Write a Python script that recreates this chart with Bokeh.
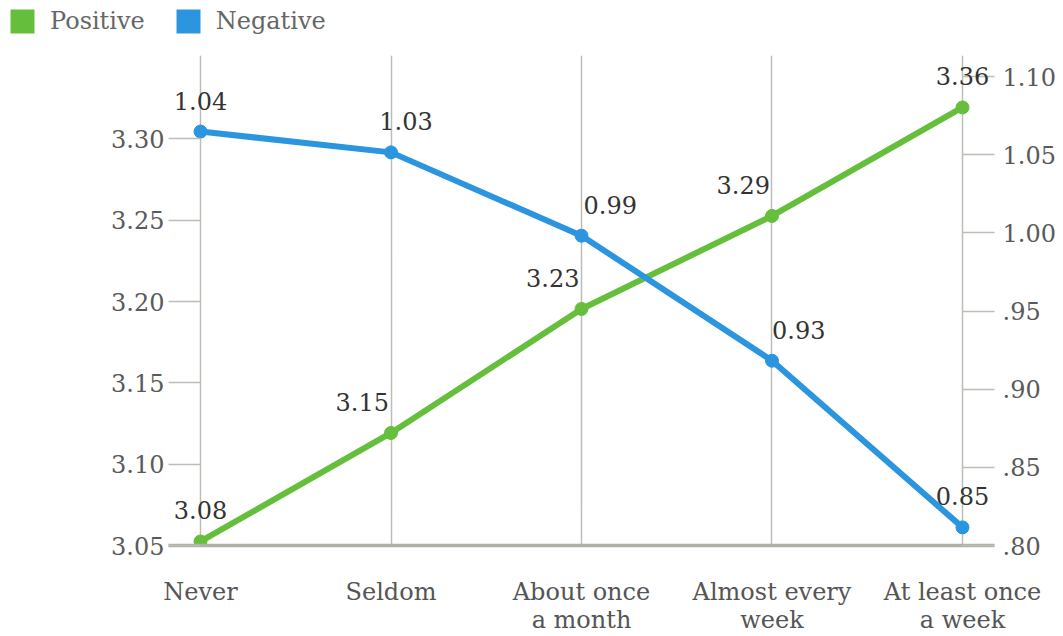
from bokeh.plotting import figure
from bokeh.models import (Range1d, LinearAxis, FixedTicker, Legend, LegendItem,
                          ColumnDataSource, LabelSet)
from bokeh.core.properties import value
from bokeh.embed import file_html
from bokeh.resources import INLINE

# ---- data ----
categories = ["Never", "Seldom", "About once\na month", "Almost every\nweek", "At least once\na week"]
positive = [3.08, 3.15, 3.23, 3.29, 3.36]
negative = [1.04, 1.03, 0.99, 0.93, 0.85]
left_tick_labels = ["3.05", "3.10", "3.15", "3.20", "3.25", "3.30"]
right_tick_labels = [".80", ".85", ".90", ".95", "1.00", "1.05", "1.10"]
series_names = ["Positive", "Negative"]

# ---- styling ----
GREEN = "#66bf3c"
BLUE = "#2b96df"
GRID = "#bdbdb5"
AXIS = "#b0b0a8"
FONT = "DejaVu Serif"
FS = "24px"

LEFT_START, LEFT_END, LEFT_STEP = 3.0774, 3.3935, 0.05245
RIGHT_START, RIGHT_END, RIGHT_STEP = 0.8413, 1.0765, 0.03752

xs = list(range(len(categories)))

p = figure(frame_width=826, frame_height=490,
           x_range=Range1d(-0.168, 4.168),
           y_range=Range1d(LEFT_START, LEFT_END),
           output_backend="svg", toolbar_location=None,
           min_border_left=168, min_border_right=62,
           min_border_top=8, min_border_bottom=80)
p.outline_line_color = None
p.background_fill_color = "white"
p.extra_y_ranges = {"right": Range1d(RIGHT_START, RIGHT_END)}

# grid
p.ygrid.visible = False
p.xgrid.ticker = FixedTicker(ticks=xs)
p.xgrid.grid_line_color = GRID
p.xgrid.grid_line_width = 1.5

# bottom axis
xa = p.xaxis[0]
xa.ticker = FixedTicker(ticks=xs)
xa.major_label_overrides = {i: c for i, c in enumerate(categories)}
xa.axis_line_color = AXIS
xa.axis_line_width = 3.5
xa.major_tick_line_color = None
xa.minor_tick_line_color = None
xa.major_label_standoff = 26
xa.major_label_text_font = FONT
xa.major_label_text_font_size = FS
xa.major_label_text_color = "#555555"
xa.major_label_text_line_height = 1.0

# left axis
left_ticks = [LEFT_START + i * LEFT_STEP for i in range(len(left_tick_labels))]
ya = p.yaxis[0]
ya.ticker = FixedTicker(ticks=left_ticks)
ya.major_label_overrides = {t: l for t, l in zip(left_ticks, left_tick_labels)}
ya.axis_line_color = None
ya.major_tick_in = 32
ya.major_tick_out = 0
ya.major_tick_line_color = GRID
ya.major_tick_line_width = 1.5
ya.minor_tick_line_color = None
ya.major_label_standoff = 4
ya.major_label_text_font = FONT
ya.major_label_text_font_size = FS
ya.major_label_text_color = "#5a5a5a"

# right axis
right_ticks = [RIGHT_START + i * RIGHT_STEP for i in range(len(right_tick_labels))]
ra = LinearAxis(y_range_name="right", ticker=FixedTicker(ticks=right_ticks))
ra.major_label_overrides = {t: l for t, l in zip(right_ticks, right_tick_labels)}
ra.axis_line_color = None
ra.major_tick_in = 32
ra.major_tick_out = 0
ra.major_tick_line_color = GRID
ra.major_tick_line_width = 1.5
ra.minor_tick_line_color = None
ra.major_label_standoff = 8
ra.major_label_text_font = FONT
ra.major_label_text_font_size = FS
ra.major_label_text_color = "#5a5a5a"
p.add_layout(ra, "right")

# series
pos_src = ColumnDataSource(dict(
    x=xs, y=positive, label=[f"{v:.2f}" for v in positive],
    align=["center", "right", "right", "right", "center"],
    xoff=[0, -2, -2, -2, 0]))
neg_src = ColumnDataSource(dict(
    x=xs, y=negative, label=[f"{v:.2f}" for v in negative],
    align=["center", "center", "left", "left", "center"],
    xoff=[0, 15, 2, 0, 0]))

p.line("x", "y", source=pos_src, line_color=GREEN, line_width=6)
p.scatter("x", "y", source=pos_src, size=13, fill_color=GREEN, line_color=GREEN)
p.line("x", "y", source=neg_src, line_color=BLUE, line_width=6, y_range_name="right")
p.scatter("x", "y", source=neg_src, size=13, fill_color=BLUE, line_color=BLUE,
          y_range_name="right")

for src, rng in ((pos_src, "default"), (neg_src, "right")):
    p.add_layout(LabelSet(x="x", y="y", text="label", source=src, y_range_name=rng,
                          text_align="align", x_offset="xoff", y_offset=22,
                          text_baseline="alphabetic", text_font=value(FONT),
                          text_font_size=value(FS), text_color="#333333"))

# legend (separate strip above the chart, its own root so frames are not aligned)
lg = figure(width=420, height=47, x_range=Range1d(0, 1), y_range=Range1d(0, 1),
            output_backend="svg", toolbar_location=None,
            min_border=0, min_border_left=0, min_border_right=0,
            min_border_top=0, min_border_bottom=0)
lg.axis.visible = False
lg.grid.visible = False
lg.outline_line_color = None
nan = float("nan")
items = []
for name, col in zip(series_names, (GREEN, BLUE)):
    r = lg.quad(left=[nan], right=[nan], top=[nan], bottom=[nan],
                fill_color=col, line_color=None)
    items.append(LegendItem(label=name, renderers=[r]))
legend = Legend(items=items, orientation="horizontal", location=(7, 11),
                glyph_width=30, glyph_height=30, padding=0, margin=0,
                spacing=28, label_standoff=13,
                label_text_font=FONT, label_text_font_size=FS,
                label_text_color="#666666",
                border_line_color=None, background_fill_alpha=0)
lg.add_layout(legend)

open("out.html", "w").write(file_html([lg, p], INLINE))
